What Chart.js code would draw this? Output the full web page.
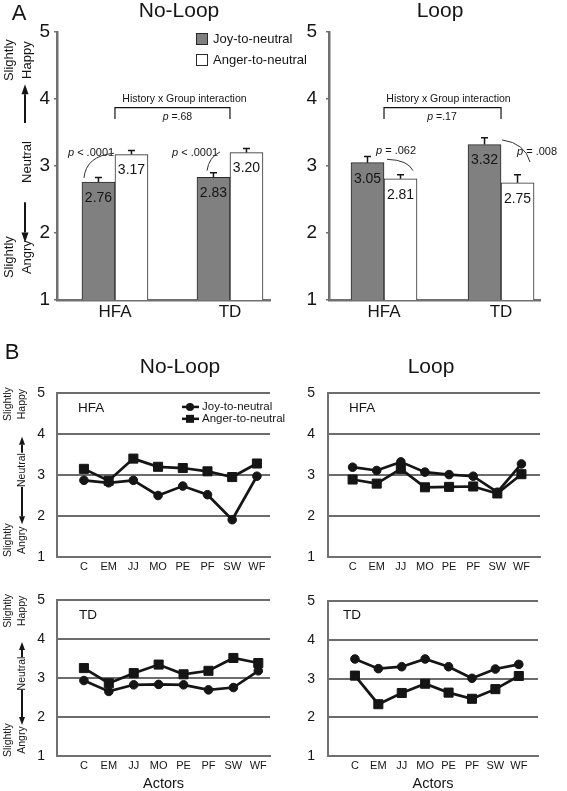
<!DOCTYPE html>
<html><head><meta charset="utf-8">
<script src="https://cdn.jsdelivr.net/npm/chart.js@4.4.1/dist/chart.umd.min.js"></script>
<style>
html,body{margin:0;padding:0;background:#fff;}
#wrap{position:relative;width:567px;height:791px;overflow:hidden;background:#fff;}
#wrap canvas{position:absolute;}
</style></head><body>
<div id="wrap">
<canvas id="aL" width="320" height="330" style="left:0;top:0"></canvas>
<canvas id="aR" width="277" height="330" style="left:290px;top:0"></canvas>
<canvas id="bTL" width="320" height="240" style="left:0;top:340px"></canvas>
<canvas id="bTR" width="277" height="240" style="left:290px;top:340px"></canvas>
<canvas id="bBL" width="320" height="211" style="left:0;top:580px"></canvas>
<canvas id="bBR" width="277" height="211" style="left:290px;top:580px"></canvas>
</div>
<script>
// ---------- DATA ----------
const groups = ['HFA', 'TD'];
const seriesNames = ['Joy-to-neutral', 'Anger-to-neutral'];
const noLoopJoy = [2.76, 2.83];
const noLoopAnger = [3.17, 3.20];
const noLoopJoyErr = [0.07, 0.07];
const noLoopAngerErr = [0.06, 0.06];
const loopJoy = [3.05, 3.32];
const loopAnger = [2.81, 2.75];
const loopJoyErr = [0.09, 0.10];
const loopAngerErr = [0.06, 0.12];
const interactionP = ['=.68', '=.17'];
const noLoopPairP = [' < .0001', ' < .0001'];
const loopPairP = [' = .062', ' = .008'];

const actors = ['C', 'EM', 'JJ', 'MO', 'PE', 'PF', 'SW', 'WF'];
const noLoopHfaJoy   = [2.87, 2.81, 2.87, 2.50, 2.73, 2.52, 1.91, 2.97];
const noLoopHfaAnger = [3.15, 2.86, 3.40, 3.20, 3.17, 3.09, 2.95, 3.28];
const loopHfaJoy     = [3.19, 3.11, 3.32, 3.07, 3.01, 2.97, 2.58, 3.27];
const loopHfaAnger   = [2.89, 2.79, 3.15, 2.70, 2.71, 2.72, 2.55, 3.02];
const noLoopTdJoy    = [2.94, 2.66, 2.83, 2.84, 2.83, 2.70, 2.76, 3.19];
const noLoopTdAnger  = [3.26, 2.87, 3.13, 3.35, 3.10, 3.19, 3.52, 3.39];
const loopTdJoy      = [3.51, 3.26, 3.31, 3.51, 3.31, 3.01, 3.25, 3.37];
const loopTdAnger    = [3.08, 2.34, 2.63, 2.87, 2.64, 2.48, 2.73, 3.07];

// ---------- HELPERS ----------
const FONT = '"Liberation Sans", Arial, Helvetica, sans-serif';
Chart.defaults.font.family = FONT;
Chart.defaults.color = '#1a1a1a';
Chart.defaults.animation = false;
const INK = '#151515', AXIS = '#707070';

function f(size, style) { return (style ? style + ' ' : '') + size + 'px ' + FONT; }
function text(ctx, t, x, y, size, align, style) {
  ctx.save(); ctx.font = f(size, style); ctx.fillStyle = INK;
  ctx.textAlign = align || 'left'; ctx.textBaseline = 'middle';
  ctx.fillText(t, x, y); ctx.restore();
}
function rotText(ctx, t, x, y, size) {
  ctx.save(); ctx.translate(x, y); ctx.rotate(-Math.PI / 2);
  ctx.font = f(size); ctx.fillStyle = INK; ctx.textAlign = 'center'; ctx.textBaseline = 'middle';
  ctx.fillText(t, 0, 0); ctx.restore();
}
function arrow(ctx, x, y0, y1, w, hl) {
  const dir = Math.sign(y1 - y0);
  ctx.save(); ctx.strokeStyle = INK; ctx.fillStyle = INK; ctx.lineWidth = 2;
  ctx.beginPath(); ctx.moveTo(x, y0); ctx.lineTo(x, y1 - dir * hl); ctx.stroke();
  ctx.beginPath(); ctx.moveTo(x, y1); ctx.lineTo(x - w / 2, y1 - dir * hl); ctx.lineTo(x + w / 2, y1 - dir * hl);
  ctx.closePath(); ctx.fill(); ctx.restore();
}
function pText(ctx, rest, x, y, size, align) {
  ctx.save(); ctx.font = f(size, 'italic'); const wp = ctx.measureText('p').width;
  ctx.font = f(size); const wr = ctx.measureText(rest).width;
  const sx = align === 'center' ? x - (wp + wr) / 2 : x;
  ctx.fillStyle = INK; ctx.textBaseline = 'middle'; ctx.textAlign = 'left';
  ctx.font = f(size, 'italic'); ctx.fillText('p', sx, y);
  ctx.font = f(size); ctx.fillText(rest, sx + wp, y); ctx.restore();
}
function curve(ctx, p0, c, p1) {
  ctx.save(); ctx.strokeStyle = '#333'; ctx.lineWidth = 1;
  ctx.beginPath(); ctx.moveTo(p0[0], p0[1]); ctx.quadraticCurveTo(c[0], c[1], p1[0], p1[1]);
  ctx.stroke(); ctx.restore();
}
function sideLabels(ctx, ys, o) {
  const Y = v => ys.getPixelForValue(v);
  rotText(ctx, 'Slightly', o.xa, Y(o.happy), o.size);
  rotText(ctx, 'Happy', o.xb, Y(o.happy), o.size);
  arrow(ctx, o.xr, Y(o.up[0]), Y(o.up[1]), o.aw, o.ah);
  rotText(ctx, 'Neutral', o.xb, Y(o.neutral), o.size);
  arrow(ctx, o.xr, Y(o.down[0]), Y(o.down[1]), o.aw, o.ah);
  rotText(ctx, 'Slightly', o.xa, Y(o.angry), o.size);
  rotText(ctx, 'Angry', o.xb, Y(o.angry), o.size);
}
const A_SIDE = {xa: 9, xb: 27, xr: 25, size: 13, happy: 4.58, up: [3.64, 4.22], neutral: 3.06, down: [2.46, 1.86], angry: 1.64, aw: 7, ah: 10};
const B_SIDE = {xa: 8, xb: 22, xr: 22, size: 10.5, happy: 4.73, up: [3.54, 3.93], neutral: 3.12, down: [2.71, 1.80], angry: 1.41, aw: 6, ah: 8};

function errorBars(chart, errs) {
  const ctx = chart.ctx, ys = chart.scales.y;
  chart.data.datasets.forEach((ds, d) => {
    chart.getDatasetMeta(d).data.forEach((el, i) => {
      const yt = ys.getPixelForValue(ds.data[i].y + errs[d][i]);
      ctx.save(); ctx.strokeStyle = INK; ctx.lineWidth = 1.5; ctx.beginPath();
      ctx.moveTo(el.x, el.y); ctx.lineTo(el.x, yt);
      ctx.moveTo(el.x - 3.5, yt); ctx.lineTo(el.x + 3.5, yt); ctx.stroke(); ctx.restore();
    });
  });
}
function valueLabels(chart) {
  chart.data.datasets.forEach((ds, d) => {
    chart.getDatasetMeta(d).data.forEach((el, i) => {
      text(chart.ctx, ds.data[i].y.toFixed(2), el.x, el.y + 16, 14, 'center');
    });
  });
}
function bracket(ctx, x0, x1, yTop, yLeg) {
  ctx.save(); ctx.strokeStyle = INK; ctx.lineWidth = 1.2; ctx.beginPath();
  ctx.moveTo(x0, yLeg); ctx.lineTo(x0, yTop); ctx.lineTo(x1, yTop); ctx.lineTo(x1, yLeg);
  ctx.stroke(); ctx.restore();
}

function barChart(id, joy, anger, errs, xMin, xMax, yW, yPad, padRight, notes) {
  const mk = (arr) => arr.map((v, i) => ({x: i, y: v}));
  return new Chart(document.getElementById(id), {
    type: 'bar',
    data: {datasets: [
      {label: seriesNames[0], data: mk(joy), backgroundColor: '#808080', borderColor: '#2a2a2a', borderWidth: 1, barThickness: 33},
      {label: seriesNames[1], data: mk(anger), backgroundColor: '#ffffff', borderColor: '#2a2a2a', borderWidth: 1, barThickness: 33}
    ]},
    options: {
      responsive: false, animation: false,
      layout: {padding: {left: 0, top: 32, right: padRight, bottom: 0}},
      plugins: {legend: {display: false}, tooltip: {enabled: false}},
      scales: {
        x: {type: 'linear', min: xMin, max: xMax, offset: false,
            afterBuildTicks: s => { s.ticks = groups.map((g, i) => ({value: i})); },
            ticks: {callback: v => groups[v], font: {size: 17}, color: INK, padding: 2, autoSkip: false, maxRotation: 0},
            grid: {display: true, drawOnChartArea: false, drawTicks: false, offset: false},
            border: {color: AXIS, width: 2.5},
            afterFit: s => { s.height = 30; }},
        y: {min: 1, max: 5, beginAtZero: false,
            ticks: {stepSize: 1, font: {size: 19}, color: INK, padding: yPad},
            grid: {drawOnChartArea: false, drawTicks: true, tickLength: 3, color: AXIS, lineWidth: 1.5},
            border: {color: AXIS, width: 2.5},
            afterFit: s => { s.width = yW; }}
      }
    },
    plugins: [{id: 'notes_' + id,
      afterDatasetsDraw(chart) { errorBars(chart, errs); valueLabels(chart); },
      afterDraw(chart) { notes(chart, chart.ctx, chart.scales.x, chart.scales.y); }}]
  });
}

function lineChart(id, joy, anger, xMin, xMax, padTop, padRight, yW, yPad, xH, o) {
  const mk = (arr) => arr.map((v, i) => ({x: i, y: v}));
  return new Chart(document.getElementById(id), {
    type: 'line',
    data: {datasets: [
      {label: seriesNames[0], data: mk(joy), borderColor: INK, borderWidth: 2.7, pointStyle: 'circle', pointRadius: 4.3,
       pointBackgroundColor: INK, pointBorderColor: INK, pointBorderWidth: 1, tension: 0},
      {label: seriesNames[1], data: mk(anger), borderColor: INK, borderWidth: 2.7, pointStyle: 'rect', pointRadius: 6.4,
       pointBackgroundColor: INK, pointBorderColor: INK, pointBorderWidth: 1, tension: 0}
    ]},
    options: {
      responsive: false, animation: false,
      layout: {padding: {left: 0, top: padTop, right: padRight, bottom: 0}},
      plugins: {legend: {display: false}, tooltip: {enabled: false}},
      scales: {
        x: {type: 'linear', min: xMin, max: xMax, offset: false,
            afterBuildTicks: s => { s.ticks = actors.map((a, i) => ({value: i})); },
            ticks: {callback: v => actors[v], font: {size: 11}, color: INK, padding: 3, autoSkip: false, maxRotation: 0},
            grid: {display: true, drawOnChartArea: false, drawTicks: false},
            border: {color: AXIS, width: 2},
            afterFit: s => { s.height = xH; }},
        y: {min: 1, max: 5,
            ticks: {stepSize: 1, font: {size: 14}, color: INK, padding: yPad},
            grid: {color: '#6c6c6c', lineWidth: 2, drawTicks: false},
            border: {color: AXIS, width: 2},
            afterFit: s => { s.width = yW; }}
      }
    },
    plugins: [{id: 'bnotes_' + id, afterDraw(chart) {
      const ctx = chart.ctx, ys = chart.scales.y, ca = chart.chartArea;
      if (o.letter) text(ctx, o.letter, 12, 13, 22, 'center');
      if (o.title) text(ctx, o.title, o.titleX, 27, 21, 'center');
      text(ctx, o.group, ca.left + o.groupDx, ys.getPixelForValue(4.63), 13.5, 'left');
      if (o.side) sideLabels(ctx, ys, B_SIDE);
      if (o.legend) {
        const rows = [[seriesNames[0], 'circle', 4.66], [seriesNames[1], 'rect', 4.37]];
        rows.forEach(r => {
          const y = ys.getPixelForValue(r[2]);
          ctx.save(); ctx.strokeStyle = INK; ctx.fillStyle = INK; ctx.lineWidth = 2.5;
          ctx.beginPath(); ctx.moveTo(182, y); ctx.lineTo(199, y); ctx.stroke();
          ctx.beginPath();
          if (r[1] === 'circle') ctx.arc(190, y, 4, 0, Math.PI * 2); else ctx.rect(186, y - 4, 8, 8);
          ctx.fill(); ctx.restore();
          text(ctx, r[0], 202, y, 11.5, 'left');
        });
      }
      if (o.actors) text(ctx, 'Actors', (ca.left + ca.right) / 2, 204, 14.5, 'center');
    }}]
  });
}

// ---------- PANEL A ----------
barChart('aL', noLoopJoy, noLoopAnger, [noLoopJoyErr, noLoopAngerErr], -0.504, 1.348, 57, 4, 50,
  (chart, ctx, xs, ys) => {
    const X = (g, dx) => xs.getPixelForValue(g) + dx, Y = v => ys.getPixelForValue(v);
    text(ctx, 'A', 19, 14, 22, 'center');
    text(ctx, 'No-Loop', 179, 11, 21, 'center');
    sideLabels(ctx, ys, A_SIDE);
    // legend
    ctx.save(); ctx.strokeStyle = '#2a2a2a'; ctx.lineWidth = 1;
    ctx.fillStyle = '#808080'; ctx.fillRect(196.5, 33.5, 11, 11); ctx.strokeRect(196.5, 33.5, 11, 11);
    ctx.fillStyle = '#fff'; ctx.fillRect(196.5, 54.5, 11, 11); ctx.strokeRect(196.5, 54.5, 11, 11);
    ctx.restore();
    text(ctx, seriesNames[0], 213, 39, 13, 'left');
    text(ctx, seriesNames[1], 213, 60, 13, 'left');
    // interaction bracket
    bracket(ctx, X(0, 0), X(1, 0), Y(3.87), Y(3.70));
    text(ctx, 'History x Group interaction', X(0.5, 12), Y(4.0), 10.5, 'center');
    pText(ctx, ' ' + interactionP[0], X(0.5, 5), Y(3.73), 10.5, 'center');
    // pairwise p
    pText(ctx, noLoopPairP[0], X(0, -47), Y(3.194), 11, 'left');
    curve(ctx, [X(0, -31), Y(2.82)], [X(0, -29), Y(3.15)], [X(0, -1), Y(3.19)]);
    pText(ctx, noLoopPairP[1], X(1, -58), Y(3.194), 11, 'left');
    curve(ctx, [X(1, -23), Y(2.93)], [X(1, -21), Y(3.13)], [X(1, -10), Y(3.21)]);
  });

barChart('aR', loopJoy, loopAnger, [loopJoyErr, loopAngerErr], -0.47, 1.333, 39, 9, 27,
  (chart, ctx, xs, ys) => {
    const X = (g, dx) => xs.getPixelForValue(g) + dx, Y = v => ys.getPixelForValue(v);
    text(ctx, 'Loop', 150, 11, 21, 'center');
    bracket(ctx, X(0, 0), X(1, 0), Y(3.87), Y(3.70));
    text(ctx, 'History x Group interaction', X(0.5, 6), Y(4.0), 10.5, 'center');
    pText(ctx, ' ' + interactionP[1], X(0.5, -0.5), Y(3.73), 10.5, 'center');
    pText(ctx, loopPairP[0], X(0, -8), Y(3.22), 11, 'left');
    curve(ctx, [X(0, 3), Y(3.10)], [X(0, 24), Y(3.09)], [X(0, 29), Y(2.93)]);
    pText(ctx, loopPairP[1], X(1, 16), Y(3.21), 11, 'left');
    curve(ctx, [X(1, 1), Y(3.39)], [X(1, 24), Y(3.34)], [X(1, 29), Y(3.06)]);
  });

// ---------- PANEL B ----------
lineChart('bTL', noLoopHfaJoy, noLoopHfaAnger, -1.09, 7.53, 53, 50, 57, 12, 23,
  {letter: 'B', title: 'No-Loop', titleX: 180, group: 'HFA', groupDx: 21, side: true, legend: true});
lineChart('bTR', loopHfaJoy, loopHfaAnger, -1.02, 7.77, 53, 27, 38, 13, 23,
  {title: 'Loop', titleX: 141, group: 'HFA', groupDx: 21});
lineChart('bBL', noLoopTdJoy, noLoopTdAnger, -1.08, 7.47, 12, 50, 57, 12, 35,
  {group: 'TD', groupDx: 22, side: true, actors: true});
lineChart('bBR', loopTdJoy, loopTdAnger, -1.15, 7.82, 12, 29, 38, 13, 35,
  {group: 'TD', groupDx: 15, actors: true});
</script>
</body></html>
